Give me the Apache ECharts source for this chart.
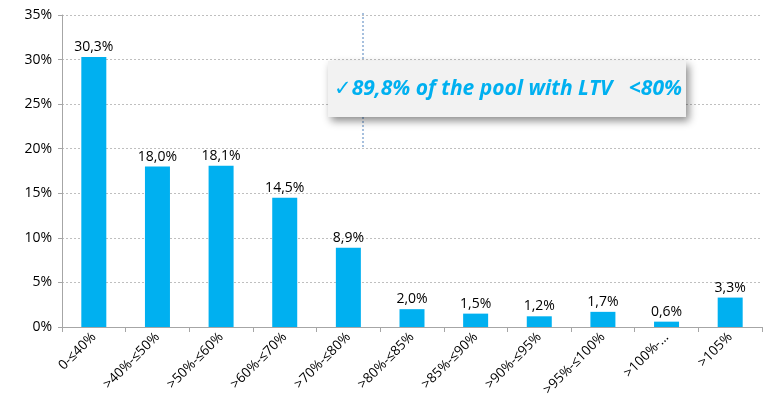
<!DOCTYPE html>
<html lang="en">
<head>
    <meta charset="UTF-8">
    <title>LTV distribution</title>
    <script src="https://cdn.jsdelivr.net/npm/echarts@6/dist/echarts.min.js"></script>
    <style>
        html, body { margin: 0; padding: 0; background: #fff; }
        #chart { width: 765px; height: 401px; }
    </style>
</head>
<body>
    <div id="chart"></div>
    <script>
    // data
    var categories = ["0-≤40%", ">40%-≤50%", ">50%-≤60%", ">60%-≤70%", ">70%-≤80%", ">80%-≤85%",
                      ">85%-≤90%", ">90%-≤95%", ">95%-≤100%", ">100%-…", ">105%"];
    var shares = [30.3, 18.0, 18.1, 14.5, 8.9, 2.0, 1.5, 1.2, 1.7, 0.6, 3.3];
    var yTicks = [0, 5, 10, 15, 20, 25, 30, 35];
    var note = "✓89,8% of the pool with LTV   <80%";

    var myChart = echarts.init(document.getElementById("chart"));
    var fontFam = "'Open Sans', 'DejaVu Sans', sans-serif";
    var option = {
        animation: false,
        grid: { left: 62, right: 3, top: 15, bottom: 74 },
        xAxis: {
            type: 'category',
            data: categories,
            axisLine: { lineStyle: { color: '#a6a6a6' } },
            axisTick: { show: true, length: 5, lineStyle: { color: '#a6a6a6' } },
            axisLabel: { rotate: 45, interval: 0, fontSize: 13.5, color: '#000', fontFamily: fontFam, margin: 8 }
        },
        yAxis: {
            type: 'value',
            min: yTicks[0],
            max: yTicks[yTicks.length - 1],
            interval: 5,
            axisLine: { show: true, lineStyle: { color: '#a6a6a6' } },
            axisTick: { show: true, length: 4, lineStyle: { color: '#a6a6a6' } },
            axisLabel: { formatter: '{value}%', fontSize: 14, color: '#000', fontFamily: fontFam, margin: 10 },
            splitLine: { lineStyle: { color: '#bfbfbf', type: [2, 2] } }
        },
        series: [{
            type: 'bar',
            data: shares,
            barWidth: 25,
            itemStyle: { color: '#00b0f0' },
            label: {
                show: true,
                position: 'top',
                distance: 3,
                fontSize: 14,
                color: '#000',
                fontFamily: fontFam,
                formatter: function (p) { return p.value.toFixed(1).replace('.', ',') + '%'; }
            }
        }],
        graphic: [
            {
                type: 'line',
                shape: { x1: 363, y1: 13, x2: 363, y2: 148 },
                style: { stroke: '#4f81bd', lineWidth: 1, lineDash: [2, 2] },
                z: 5
            },
            {
                type: 'rect',
                shape: { x: 328, y: 61, width: 358, height: 56 },
                style: { fill: '#f2f2f2', shadowBlur: 8, shadowOffsetX: 3, shadowOffsetY: 4, shadowColor: 'rgba(0,0,0,0.45)' },
                z: 10
            },
            {
                type: 'text',
                x: 508,
                y: 89,
                style: {
                    text: note,
                    fill: '#00b0f0',
                    font: 'italic bold 21px ' + fontFam,
                    align: 'center',
                    verticalAlign: 'middle'
                },
                z: 11
            }
        ]
    };
    myChart.setOption(option);
    </script>
</body>
</html>
